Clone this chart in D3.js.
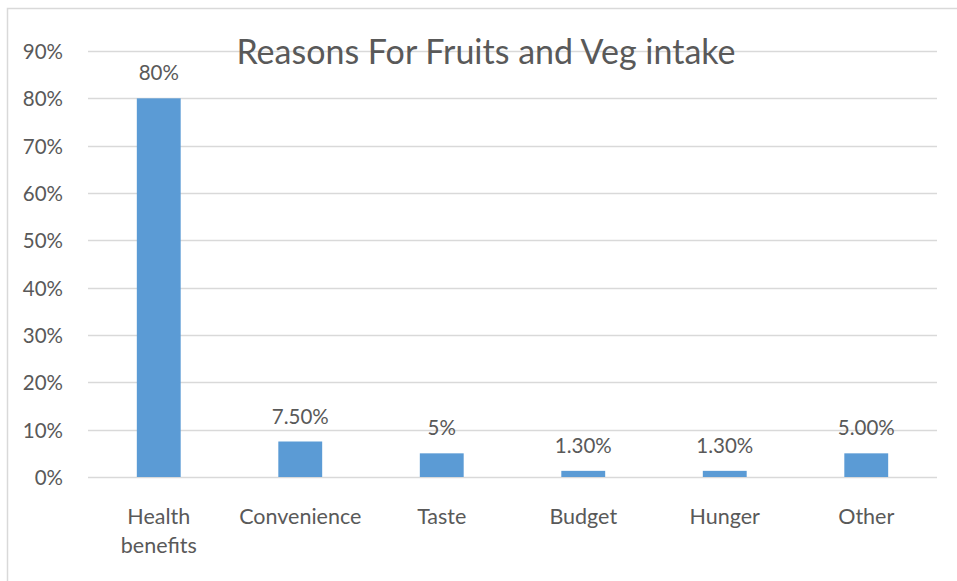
<!DOCTYPE html>
<html><head><meta charset="utf-8">
<script src="https://cdn.jsdelivr.net/npm/d3@7"></script>
<style>body{margin:0;background:#fff}text{font-family:Lato,"Open Sans",sans-serif;fill:#595959}</style>
</head><body><svg id="c" width="957" height="581"></svg>
<script>
const categories = ["Health benefits","Convenience","Taste","Budget","Hunger","Other"];
const values = [0.80,0.075,0.05,0.013,0.013,0.05];
const valueLabels = ["80%","7.50%","5%","1.30%","1.30%","5.00%"];
const tickValues = [0,0.1,0.2,0.3,0.4,0.5,0.6,0.7,0.8,0.9];
const title = "Reasons For Fruits and Veg intake";

const svg = d3.select("#c");
svg.append("rect").attr("x",7.5).attr("y",8.5).attr("width",980).attr("height",600)
  .attr("fill","#fff").attr("stroke","#d9d9d9").attr("stroke-width",1.5);

const x = d3.scaleBand().domain(categories).range([88,937]).paddingInner(0.69).paddingOuter(0.345);
const y = d3.scaleLinear().domain([0,0.9]).range([477,51]);

const grid = svg.append("g");
grid.selectAll("line").data(tickValues).join("line")
  .attr("x1",88).attr("x2",937).attr("y1",d=>Math.round(y(d))+0.5).attr("y2",d=>Math.round(y(d))+0.5)
  .attr("stroke","#d9d9d9").attr("stroke-width",1.3);

const yAxis = svg.append("g").attr("transform","translate(88,0)")
  .call(d3.axisLeft(y).tickValues(tickValues).tickFormat(d3.format(".0%")).tickSize(0).tickPadding(25));
yAxis.select(".domain").remove();
yAxis.selectAll("text").attr("font-size",20.5).attr("dy","0.36em").style("font-family","Lato").attr("fill","#595959");

svg.append("text").attr("x",486).attr("y",64).attr("text-anchor","middle").attr("font-size",34).text(title);

svg.append("g").selectAll("rect").data(values).join("rect")
  .attr("x",(d,i)=>x(categories[i])).attr("width",x.bandwidth())
  .attr("y",d=>y(d)).attr("height",d=>y(0)-y(d)).attr("fill","#5b9bd5");

svg.append("g").selectAll("text").data(values).join("text")
  .attr("x",(d,i)=>x(categories[i])+x.bandwidth()/2).attr("y",d=>y(d)-18)
  .attr("text-anchor","middle").attr("font-size",20.5).text((d,i)=>valueLabels[i]);

const xAxis = svg.append("g").attr("transform","translate(0,477)")
  .call(d3.axisBottom(x).tickSize(0).tickFormat(""));
xAxis.select(".domain").remove();
xAxis.selectAll(".tick").each(function(d){
  const words = d.split(" ");
  const t = d3.select(this).append("text").attr("text-anchor","middle").attr("font-size",21.5).attr("fill","#595959");
  words.forEach((w,i)=>t.append("tspan").attr("x",0).attr("y",47+i*29).text(w));
});
</script></body></html>
